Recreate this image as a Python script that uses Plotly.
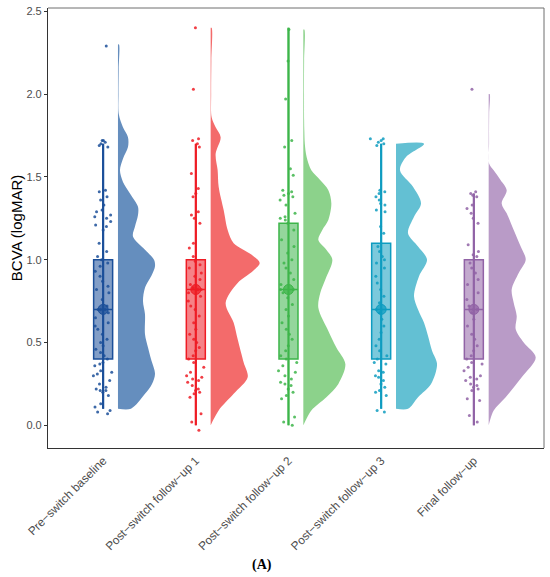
import plotly.graph_objects as go

# Groups and colours
groups = ["Pre−switch baseline", "Post−switch follow−up 1", "Post−switch follow−up 2",
          "Post−switch follow−up 3", "Final follow−up"]
line_colors = ["#1B4F99", "#EE1C24", "#3DB54A", "#0E9CC0", "#9163A6"]
fill_colors = ["#658EBE", "#F36B6B", "#8CD28B", "#63C0D3", "#B99BC7"]

# Box statistics (logMAR)
q1 = [0.40, 0.40, 0.40, 0.40, 0.40]
median = [0.70, 0.82, 0.82, 0.70, 0.70]
q3 = [1.00, 1.00, 1.22, 1.10, 1.00]
lower_fence = [0.10, 0.00, 0.00, 0.10, 0.00]
upper_fence = [1.70, 1.70, 2.40, 1.70, 1.40]

# Observed values (points)
pts_1 = [2.29, 1.72, 1.72, 1.71, 1.70, 1.69, 1.68, 1.42, 1.41, 1.38, 1.36, 1.33, 1.30, 1.29,
         1.27, 1.26, 1.25, 1.23, 1.21, 1.20, 1.18, 1.10, 1.05, 1.02, 1.00, 0.98, 0.96, 0.93,
         0.90, 0.87, 0.84, 0.82, 0.80, 0.76, 0.72, 0.70, 0.70, 0.70, 0.68, 0.65, 0.62, 0.60,
         0.58, 0.55, 0.52, 0.50, 0.48, 0.46, 0.44, 0.42, 0.40, 0.38, 0.37, 0.36, 0.33, 0.32,
         0.31, 0.30, 0.27, 0.25, 0.23, 0.22, 0.21, 0.21, 0.20, 0.18, 0.13, 0.11, 0.09, 0.08, 0.07]
pts_2 = [2.40, 2.03, 1.73, 1.72, 1.70, 1.68, 1.52, 1.43, 1.40, 1.38, 1.29, 1.27, 1.25, 1.22,
         1.10, 1.07, 1.02, 0.99, 0.97, 0.95, 0.92, 0.90, 0.88, 0.85, 0.83, 0.82, 0.82, 0.80,
         0.78, 0.75, 0.72, 0.70, 0.66, 0.62, 0.58, 0.55, 0.52, 0.50, 0.47, 0.45, 0.42, 0.40,
         0.38, 0.35, 0.32, 0.30, 0.29, 0.28, 0.27, 0.26, 0.24, 0.22, 0.21, 0.20, 0.19, 0.17,
         0.07, 0.02, -0.03]
pts_3 = [2.39, 2.20, 1.97, 1.72, 1.68, 1.55, 1.51, 1.42, 1.41, 1.40, 1.39, 1.38, 1.36, 1.33,
         1.28, 1.26, 1.25, 1.24, 1.22, 1.18, 1.12, 1.08, 1.04, 1.00, 0.98, 0.95, 0.92, 0.88,
         0.85, 0.82, 0.82, 0.80, 0.77, 0.73, 0.70, 0.66, 0.62, 0.58, 0.55, 0.52, 0.48, 0.45,
         0.42, 0.40, 0.38, 0.36, 0.33, 0.32, 0.30, 0.28, 0.26, 0.25, 0.24, 0.22, 0.20, 0.18,
         0.16, 0.05, 0.02, 0.00]
pts_4 = [1.73, 1.73, 1.72, 1.71, 1.70, 1.69, 1.42, 1.41, 1.40, 1.38, 1.36, 1.34, 1.33, 1.30,
         1.29, 1.20, 1.16, 1.08, 1.05, 1.02, 1.00, 0.98, 0.95, 0.90, 0.86, 0.82, 0.78, 0.74,
         0.70, 0.70, 0.68, 0.64, 0.60, 0.56, 0.52, 0.48, 0.45, 0.42, 0.40, 0.38, 0.37, 0.33,
         0.32, 0.30, 0.29, 0.27, 0.25, 0.23, 0.21, 0.20, 0.18, 0.09, 0.08]
pts_5 = [2.03, 1.41, 1.40, 1.39, 1.38, 1.33, 1.31, 1.28, 1.25, 1.22, 1.09, 1.05, 1.03, 1.02,
         0.98, 0.95, 0.92, 0.88, 0.85, 0.80, 0.76, 0.72, 0.70, 0.70, 0.68, 0.64, 0.60, 0.55,
         0.52, 0.48, 0.45, 0.42, 0.40, 0.38, 0.37, 0.35, 0.33, 0.30, 0.29, 0.28, 0.27, 0.25,
         0.24, 0.23, 0.22, 0.21, 0.16, 0.15, 0.06, 0.02]
points = [pts_1, pts_2, pts_3, pts_4, pts_5]

# Half-violin density profiles (y level, density)
dens_y_1 = [0.10, 0.19, 0.25, 0.31, 0.40, 0.47, 0.55, 0.67, 0.75, 0.83, 0.91, 0.96, 1.00, 1.06,
            1.14, 1.20, 1.27, 1.32, 1.40, 1.47, 1.54, 1.61, 1.68, 1.74, 1.80, 1.88, 2.00, 2.15, 2.30]
dens_1 = [1.3, 2.7, 3.4, 3.7, 3.3, 3.0, 2.7, 2.7, 2.5, 2.7, 3.4, 3.7, 3.6, 2.7,
          1.5, 1.7, 2.0, 2.0, 1.2, 0.5, 0.2, 0.5, 1.0, 1.0, 0.5, 0.08, 0.05, 0.07, 0.1]
dens_y_2 = [0.00, 0.09, 0.19, 0.29, 0.38, 0.52, 0.62, 0.74, 0.86, 0.93, 0.98, 1.03, 1.10, 1.18,
            1.30, 1.44, 1.54, 1.64, 1.74, 1.80, 1.86, 2.00, 2.20, 2.40]
dens_2 = [0.0, 0.8, 2.3, 3.7, 3.3, 2.7, 2.3, 1.5, 2.7, 4.2, 4.9, 4.1, 2.3, 1.7,
          1.3, 0.8, 0.7, 0.5, 1.0, 0.5, 0.1, 0.05, 0.07, 0.1]
dens_y_3 = [0.00, 0.09, 0.17, 0.25, 0.37, 0.47, 0.57, 0.71, 0.80, 0.88, 1.00, 1.06, 1.12, 1.18,
            1.24, 1.34, 1.42, 1.48, 1.54, 1.62, 1.70, 1.78, 1.84, 2.00, 2.20, 2.39]
dens_3 = [0.0, 0.8, 2.3, 3.5, 4.2, 3.3, 2.5, 1.5, 1.7, 2.2, 2.9, 2.3, 1.5, 1.9,
          2.5, 2.8, 2.5, 1.7, 0.8, 0.33, 0.15, 0.1, 0.08, 0.07, 0.08, 0.1]
dens_y_4 = [0.10, 0.17, 0.25, 0.37, 0.45, 0.54, 0.62, 0.70, 0.78, 0.90, 1.00, 1.08, 1.16, 1.26,
            1.34, 1.44, 1.54, 1.62, 1.70]
dens_4 = [1.2, 2.2, 3.5, 4.1, 3.6, 3.2, 2.8, 2.2, 1.8, 2.3, 3.1, 2.2, 1.2, 1.8,
          2.5, 1.7, 0.4, 1.0, 2.8]
dens_y_5 = [0.00, 0.09, 0.17, 0.29, 0.41, 0.50, 0.58, 0.66, 0.74, 0.82, 0.92, 1.00, 1.08, 1.18,
            1.28, 1.34, 1.42, 1.48, 1.54, 1.58, 1.70, 1.88, 2.00]
dens_5 = [0.0, 0.5, 1.7, 3.3, 4.7, 3.5, 2.7, 2.8, 2.5, 2.3, 3.0, 3.7, 3.2, 2.5,
          1.8, 1.3, 1.8, 1.2, 0.5, 0.05, 0.04, 0.05, 0.1]
dens_y = [dens_y_1, dens_y_2, dens_y_3, dens_y_4, dens_y_5]
dens = [dens_1, dens_2, dens_3, dens_4, dens_5]

VIOLIN_OFFSET = 0.16
VIOLIN_SCALE = 0.108
BOX_WIDTH = 0.205


def rgba(hex_color, alpha):
    h = hex_color.lstrip("#")
    r, g, b = int(h[0:2], 16), int(h[2:4], 16), int(h[4:6], 16)
    return f"rgba({r},{g},{b},{alpha})"


fig = go.Figure()

for i, name in enumerate(groups):
    pos = i + 1
    base = pos + VIOLIN_OFFSET

    # half violin
    vx = [base] + [base + d * VIOLIN_SCALE for d in dens[i]] + [base]
    vy = [dens_y[i][0]] + dens_y[i] + [dens_y[i][-1]]
    fig.add_trace(go.Scatter(
        x=vx, y=vy, mode="lines", fill="toself",
        fillcolor=fill_colors[i], line=dict(width=0, shape="spline", smoothing=0.9),
        hoverinfo="skip", showlegend=False))

    # box
    fig.add_trace(go.Box(
        x=[pos], q1=[q1[i]], median=[median[i]], q3=[q3[i]],
        lowerfence=[lower_fence[i]], upperfence=[upper_fence[i]],
        width=BOX_WIDTH, whiskerwidth=0, boxpoints=False,
        fillcolor=rgba(line_colors[i], 0.55),
        line=dict(color=line_colors[i], width=1.5),
        hoverinfo="skip", showlegend=False))

    # whisker line through the box
    fig.add_trace(go.Scatter(
        x=[pos, pos], y=[lower_fence[i], upper_fence[i]], mode="lines",
        line=dict(color=line_colors[i], width=2.2),
        hoverinfo="skip", showlegend=False))

    # jittered observations
    fig.add_trace(go.Box(
        x=[pos] * len(points[i]), y=points[i],
        width=0.24, boxpoints="all", jitter=1.0, pointpos=0,
        fillcolor="rgba(0,0,0,0)", line=dict(width=0, color="rgba(0,0,0,0)"),
        marker=dict(color=line_colors[i], size=3, opacity=0.85),
        hoverinfo="skip", showlegend=False))

    # median marker
    fig.add_trace(go.Scatter(
        x=[pos], y=[median[i]], mode="markers",
        marker=dict(color=rgba(line_colors[i], 0.75), size=10,
                    line=dict(color=line_colors[i], width=1)),
        hoverinfo="skip", showlegend=False))

fig.update_layout(
    width=550, height=577,
    margin=dict(l=48, r=6, t=8, b=129),
    paper_bgcolor="white", plot_bgcolor="white",
    boxmode="overlay",
    font=dict(family="Liberation Sans, Arial, sans-serif", color="#4d4d4d"),
    xaxis=dict(
        range=[0.405, 5.757], tickmode="array", tickvals=[1, 2, 3, 4, 5], ticktext=groups,
        tickangle=-45, ticks="", showgrid=False, zeroline=False, automargin=False,
        showline=True, linecolor="#333", linewidth=1.2,
        tickfont=dict(size=11.8, color="#4d4d4d")),
    yaxis=dict(
        range=[-0.137, 2.52], tickvals=[0, 0.5, 1.0, 1.5, 2.0, 2.5],
        ticktext=["0.0", "0.5", "1.0", "1.5", "2.0", "2.5"],
        ticks="outside", ticklen=3, tickcolor="#333", showgrid=False, zeroline=False,
        automargin=False, showline=True, linecolor="#333", linewidth=1.2,
        tickfont=dict(size=11, color="#4d4d4d"),
        title=dict(text="BCVA (logMAR)", font=dict(size=15, color="black"), standoff=0)),
    # lighter top and right panel border
    shapes=[
        dict(type="line", xref="paper", yref="paper", x0=0, x1=1, y0=1, y1=1,
             line=dict(color="#6e6e6e", width=1)),
        dict(type="line", xref="paper", yref="paper", x0=1, x1=1, y0=0, y1=1,
             line=dict(color="#6e6e6e", width=1)),
    ],
    annotations=[dict(
        text="<b>(A)</b>", xref="paper", yref="paper", x=0.431, y=-0.2665,
        xanchor="center", yanchor="middle",
        showarrow=False, font=dict(family="Liberation Serif, Times New Roman, serif",
                                   size=14, color="black"))],
)

# drop the default page margin so the figure sits at the window origin
fig.write_html("out.html", config={"displayModeBar": False},
               post_script="document.body.style.margin='0';")
